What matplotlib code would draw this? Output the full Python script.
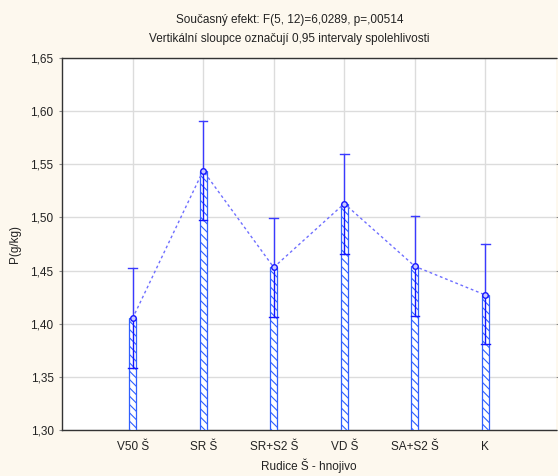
import matplotlib
matplotlib.use("Agg")
import matplotlib.pyplot as plt
import numpy as np

categories = ["V50 Š", "SR Š", "SR+S2 Š", "VD Š", "SA+S2 Š", "K"]
means = [1.405, 1.544, 1.453, 1.513, 1.454, 1.427]
ci_low = [1.358, 1.498, 1.406, 1.466, 1.407, 1.381]
ci_high = [1.452, 1.591, 1.499, 1.560, 1.501, 1.475]
yticks = [1.30, 1.35, 1.40, 1.45, 1.50, 1.55, 1.60, 1.65]
title_lines = ["Současný efekt: F(5, 12)=6,0289, p=,00514",
               "Vertikální sloupce označují 0,95 intervaly spolehlivosti"]

plt.rcParams['font.family'] = ['Liberation Sans', 'DejaVu Sans']
plt.rcParams['hatch.color'] = '#4a9aff'
plt.rcParams['hatch.linewidth'] = 0.8

fs = 8.5
bg = '#fdf8ee'
fig = plt.figure(figsize=(5.58, 4.76), dpi=100, facecolor=bg)
ax = fig.add_axes([62/558, 46/476, 494/558, 372/476])
ax.set_facecolor('white')

x = np.arange(1, len(categories) + 1)
bottom = yticks[0]
heights = [m - bottom for m in means]
ax.bar(x, heights, bottom=bottom, width=0.1, facecolor='white',
       edgecolor='#2f5fff', linewidth=0.9, hatch='\\\\\\\\', zorder=3)

# dotted connecting line
ax.plot(x, means, linestyle=(0, (2, 2)), color='#6f6fff', linewidth=1.0, zorder=4)

for xi, m, lo, hi in zip(x, means, ci_low, ci_high):
    ax.plot([xi, xi], [m, hi], color='#3a3aff', linewidth=1.0, zorder=5)
    ax.plot([xi - 0.06, xi + 0.06], [hi, hi], color='#3a3aff', linewidth=1.0, zorder=5)
    ax.plot([xi, xi], [lo, m], color='#1515ff', linewidth=1.0, zorder=5)
    ax.plot([xi - 0.06, xi + 0.06], [lo, lo], color='#1515ff', linewidth=1.0, zorder=5)

ax.plot(x, means, linestyle='none', marker='o', markersize=4,
        markerfacecolor='#c8c8ff', markeredgecolor='#1515ff', markeredgewidth=1.0, zorder=6)

ax.set_xlim(0, 7)
ax.set_ylim(1.30, 1.65)
ax.set_yticks(yticks)
ax.set_yticklabels([f"{v:.2f}".replace('.', ',') for v in yticks], fontsize=fs, color='#222222')
ax.set_xticks(x)
ax.set_xticklabels(categories, fontsize=fs, color='#222222')
ax.grid(True, color='#dcdcdc', linewidth=1.0, zorder=0)
ax.set_axisbelow(True)
ax.tick_params(axis='x', length=0, pad=8)
ax.tick_params(axis='y', length=2, color='#888888', pad=4, right=True)
for s in ['left', 'bottom', 'top']:
    ax.spines[s].set_color('#333333')
    ax.spines[s].set_linewidth(1.0)
ax.spines['right'].set_visible(False)

fig.text(309/558, 1 - 466/476, "Rudice Š - hnojivo", ha='center', va='center', fontsize=fs, color='#222222')
ax.set_ylabel("P(g/kg)", fontsize=fs, color='#222222', labelpad=7)

fig.text(289.5/558, 1 - 20/476, title_lines[0], ha='center', va='center', fontsize=fs, color='#222222')
fig.text(289.5/558, 1 - 39/476, title_lines[1], ha='center', va='center', fontsize=fs, color='#222222')

fig.savefig("out.png", dpi=100, facecolor=bg)
